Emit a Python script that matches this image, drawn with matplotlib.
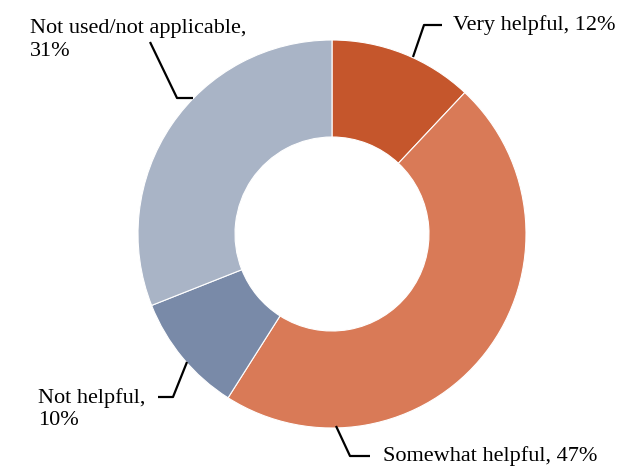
import matplotlib.pyplot as plt

labels = ["Very helpful", "Somewhat helpful", "Not helpful", "Not used/not applicable"]
shares = [12, 47, 10, 31]
colors = ["#C5562C", "#D97A57", "#798AA8", "#A9B4C6"]

plt.rcParams['font.family'] = ['Liberation Serif', 'DejaVu Serif']

W, H = 626, 466
fig = plt.figure(figsize=(W / 100, H / 100), dpi=100)
ax = fig.add_axes([0, 0, 1, 1])

cx, cy, r = 332, 234, 194
wedges, _ = ax.pie(shares, colors=colors, startangle=90, counterclock=False,
                   center=(cx, cy), radius=r, frame=True,
                   wedgeprops=dict(width=r * 0.5, edgecolor="white", linewidth=0.8))
ax.set_xlim(0, W)
ax.set_ylim(H, 0)
ax.set_aspect('equal')
ax.axis('off')

# y axis runs downward, so mirror each wedge's angles to keep clockwise order from the top
for w in wedges:
    t1, t2 = w.theta1, w.theta2
    w.set_theta1(-t2)
    w.set_theta2(-t1)

fs = 16
# leader lines: (point on ring, elbow, end near label)
leaders = [
    [(413, 57), (424, 25), (442, 25)],
    [(336, 426), (350, 456), (370, 456)],
    [(187, 362), (173, 397), (158, 397)],
    [(150, 42), (177, 98), (193, 98)],
]
for pts in leaders:
    xs, ys = zip(*pts)
    ax.plot(xs, ys, color="black", lw=1.6, solid_capstyle="butt")

ax.text(453, 25, f"{labels[0]}, {shares[0]}%", fontsize=fs, va="center", ha="left")
ax.text(383, 456, f"{labels[1]}, {shares[1]}%", fontsize=fs, va="center", ha="left")
ax.text(38, 409, f"{labels[2]},\n{shares[2]}%", fontsize=fs, va="center", ha="left",
        linespacing=1.25)
ax.text(30, 40, f"{labels[3]},\n{shares[3]}%", fontsize=fs, va="center", ha="left",
        linespacing=1.25)

fig.savefig("out.png", dpi=100)
